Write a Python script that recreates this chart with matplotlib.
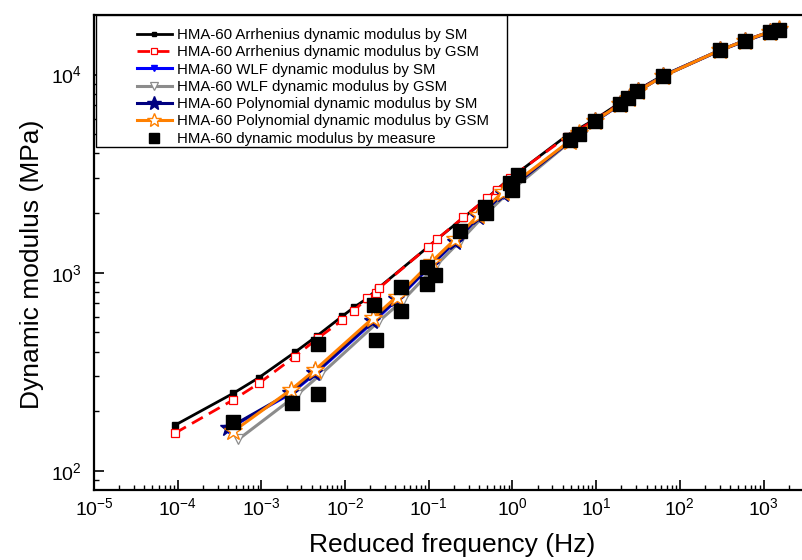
import math

import matplotlib
matplotlib.use("Agg")
import matplotlib.pyplot as plt
from matplotlib.patches import Rectangle
from matplotlib.ticker import FixedLocator, NullFormatter

plt.rcParams["font.family"] = ["Liberation Sans", "DejaVu Sans"]
plt.rcParams["mathtext.fontset"] = "custom"
plt.rcParams["mathtext.rm"] = "Liberation Sans"
plt.rcParams["mathtext.it"] = "Liberation Sans"

# Measured dynamic modulus (reduced frequency in Hz, modulus in MPa)
meas_f = [4.61e-4, 2.34e-3, 4.71e-3, 4.71e-3, 0.0221, 0.0232, 0.0466, 0.0466,
          0.0942, 0.0955, 0.1186, 0.236, 0.469, 0.482, 0.933, 0.977, 1.175,
          4.86, 6.24, 9.68, 19.2, 24.2, 31.0, 62.4, 304, 604, 1194, 1542]
meas_E = [177, 219, 243, 435, 687, 457, 643, 849,
          877, 1072, 970, 1630, 2140, 1995, 2830, 2620, 3110,
          4680, 5000, 5840, 7080, 7660, 8270, 9850, 13330, 14850, 16500, 16830]

# Arrhenius master curves
arr_sm_f = [9.3e-5, 4.6e-4, 9.3e-4, 2.5e-3, 4.6e-3, 9.3e-3, 1.28e-2, 1.82e-2, 2.5e-2,
            9.8e-2, 0.126, 0.257, 0.496, 0.636, 0.88, 4.44, 9.68, 19.2, 24.2, 31.0,
            62.4, 304, 604, 1194, 1542]
arr_sm_E = [170, 246, 295, 396, 479, 604, 669, 740, 837,
            1349, 1479, 1888, 2377, 2612, 2930, 4920, 5950, 7200, 7750, 8350,
            9900, 13300, 14900, 16500, 16900]

arr_gsm_f = [9.3e-5, 4.6e-4, 9.3e-4, 2.5e-3, 4.7e-3, 9.3e-3, 1.28e-2, 1.82e-2, 2.34e-2,
             2.57e-2, 9.8e-2, 0.126, 0.257, 0.496, 0.65, 0.93, 4.44, 9.68, 19.2, 24.2,
             31.0, 62.4, 304, 604, 1194, 1542]
arr_gsm_E = [155, 228, 276, 377, 466, 577, 643, 743, 793,
             839, 1349, 1479, 1900, 2377, 2612, 3000, 4850, 5900, 7150, 7700,
             8300, 9850, 13300, 14900, 16500, 16900]

# WLF master curves
wlf_sm_f = [4.0e-4, 2.2e-3, 4.3e-3, 0.0212, 0.041, 0.107, 0.204, 0.388, 0.77, 4.9,
            6.3, 9.7, 19.5, 24.5, 31.5, 62.4, 304, 604, 1194, 1542]
wlf_sm_E = [163, 244, 307, 560, 725, 1090, 1420, 1890, 2480, 4600,
            5010, 5820, 7070, 7630, 8240, 9830, 13300, 14850, 16400, 16800]

wlf_gsm_f = [5.3e-4, 2.63e-3, 5.0e-3, 0.025, 0.049, 0.123, 0.235, 0.445, 0.88, 5.0,
             6.4, 9.8, 19.5, 24.5, 31.5, 62.4, 304, 604, 1194, 1542]
wlf_gsm_E = [144, 241, 304, 566, 725, 1090, 1440, 1920, 2520, 4620,
             5020, 5830, 7080, 7640, 8250, 9820, 13300, 14850, 16400, 16800]

# Polynomial master curves
poly_sm_f = [4.0e-4, 2.2e-3, 4.3e-3, 0.0212, 0.041, 0.107, 0.204, 0.388, 0.77, 4.9,
             6.3, 9.7, 19.5, 24.5, 31.5, 62.4, 304, 604, 1194, 1542]
poly_sm_E = [164, 247, 311, 568, 735, 1100, 1435, 1905, 2500, 4620,
             5030, 5830, 7080, 7640, 8250, 9820, 13250, 14800, 16350, 16750]

poly_gsm_f = [4.6e-4, 2.24e-3, 4.37e-3, 0.0214, 0.0413, 0.108, 0.206, 0.391, 0.776, 4.9,
              6.3, 9.7, 19.5, 24.5, 31.5, 62.4, 304, 604, 1194, 1542]
poly_gsm_E = [158, 256, 323, 589, 757, 1136, 1475, 1955, 2565, 4650,
              5050, 5850, 7100, 7650, 8250, 9800, 13300, 14850, 16450, 16900]

labels = [
    "HMA-60 Arrhenius dynamic modulus by SM",
    "HMA-60 Arrhenius dynamic modulus by GSM",
    "HMA-60 WLF dynamic modulus by SM",
    "HMA-60 WLF dynamic modulus by GSM",
    "HMA-60 Polynomial dynamic modulus by SM",
    "HMA-60 Polynomial dynamic modulus by GSM",
    "HMA-60 dynamic modulus by measure",
]

# axis ranges and decade ticks
x_lim = (1e-5, 2960)
y_lim = (80, 20000)
x_decades = [1e-5, 1e-4, 1e-3, 1e-2, 1e-1, 1e0, 1e1, 1e2, 1e3]
y_decades = [1e2, 1e3, 1e4]

W, H = 803, 560
fig = plt.figure(figsize=(W / 100, H / 100), dpi=100)
ax_l, ax_r, ax_t, ax_b = 94, 803, 15, 490
ax = fig.add_axes([ax_l / W, 1 - ax_b / H, (ax_r - ax_l) / W, (ax_b - ax_t) / H])

ax.plot(arr_sm_f, arr_sm_E, color="black", lw=2.0, marker="s", ms=4.2,
        mfc="black", mec="black", label=labels[0], zorder=3)
ax.plot(arr_gsm_f, arr_gsm_E, color="#ff0000", lw=2.0, dashes=(4.5, 2.5), marker="s",
        ms=5.5, mfc="white", mec="#ff0000", mew=0.9, label=labels[1], zorder=3)
ax.plot(wlf_sm_f, wlf_sm_E, color="#0000ff", lw=2.2, marker="v", ms=6,
        mfc="#0000ff", mec="#0000ff", label=labels[2], zorder=3)
ax.plot(wlf_gsm_f, wlf_gsm_E, color="#8c8c8c", lw=2.2, marker="v", ms=7,
        mfc="white", mec="#8c8c8c", mew=0.9, label=labels[3], zorder=3)
ax.plot(poly_sm_f, poly_sm_E, color="#000080", lw=2.2, marker="*", ms=12.5,
        mfc="#000080", mec="#000080", label=labels[4], zorder=3)
ax.plot(poly_gsm_f, poly_gsm_E, color="#ff8000", lw=2.2, marker="*", ms=13.5,
        mfc="white", mec="#ff8000", mew=1.0, label=labels[5], zorder=3)
ax.plot(meas_f, meas_E, ls="none", marker="s", ms=9.5, mfc="black", mec="black",
        label=labels[6], zorder=4)

ax.set_xscale("log")
ax.set_yscale("log")
ax.set_xlim(*x_lim)
ax.set_ylim(*y_lim)


def minor_ticks(lo, hi):
    vals = []
    d = 10.0 ** -6
    while d < hi:
        for m in range(2, 10):
            v = m * d
            if lo < v < hi:
                vals.append(v)
        d *= 10
    return vals


def decade_label(v):
    return r"$\mathdefault{10^{%d}}$" % round(math.log10(v))


ax.xaxis.set_major_locator(FixedLocator(x_decades))
ax.xaxis.set_minor_locator(FixedLocator(minor_ticks(*x_lim)))
ax.yaxis.set_major_locator(FixedLocator(y_decades))
ax.yaxis.set_minor_locator(FixedLocator(minor_ticks(*y_lim)))
ax.set_xticklabels([decade_label(v) for v in x_decades])
ax.set_yticklabels([decade_label(v) for v in y_decades])
ax.xaxis.set_minor_formatter(NullFormatter())
ax.yaxis.set_minor_formatter(NullFormatter())

for s in ax.spines.values():
    s.set_linewidth(1.6)
ax.spines["right"].set_visible(False)

ax.tick_params(which="both", direction="in", top=False, right=False)
ax.tick_params(which="major", length=7, width=1.2, labelsize=14)
ax.tick_params(axis="x", which="major", pad=5)
ax.tick_params(axis="y", which="major", pad=8.5)
ax.tick_params(which="minor", length=3.5, width=1.0)

ax.set_xlabel("Reduced frequency (Hz)", fontsize=19)
ax.set_ylabel("Dynamic modulus (MPa)", fontsize=19)
ax.xaxis.set_label_coords((452 - ax_l) / (ax_r - ax_l), (ax_b - 533) / (ax_b - ax_t))
ax.yaxis.set_label_coords((44 - ax_l) / (ax_r - ax_l), (ax_b - 264) / (ax_b - ax_t))

# legend frame and entries
fx0 = (96 - ax_l) / (ax_r - ax_l)
fx1 = (507 - ax_l) / (ax_r - ax_l)
fy0 = (ax_b - 147) / (ax_b - ax_t)
frame = Rectangle((fx0, fy0), fx1 - fx0, 1 - fy0, transform=ax.transAxes,
                  facecolor="white", edgecolor="black", lw=1.0, zorder=5, clip_on=False)
ax.add_patch(frame)
leg = ax.legend(loc="upper left",
                bbox_to_anchor=((137 - ax_l) / (ax_r - ax_l), (ax_b - 28) / (ax_b - ax_t)),
                frameon=False, fontsize=10.8, borderpad=0, borderaxespad=0,
                handlelength=2.33, handletextpad=0.33, labelspacing=0.22,
                numpoints=1, markerscale=0.8)
leg.set_zorder(6)

fig.savefig("out.png", dpi=100)
